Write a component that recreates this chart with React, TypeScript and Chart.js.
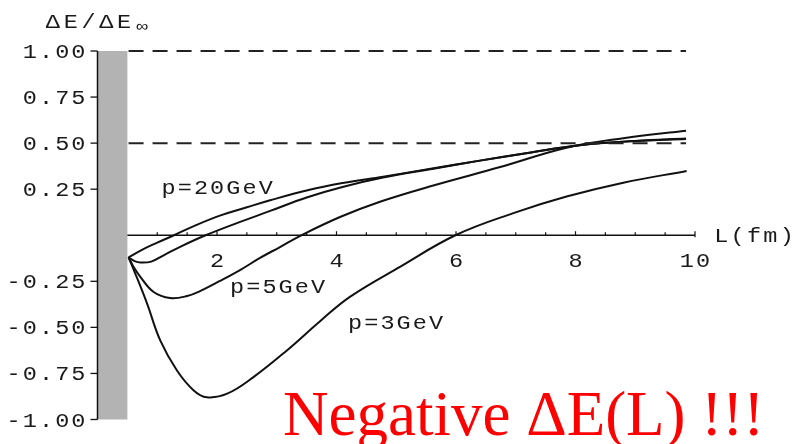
import React, { useEffect, useRef } from "react";
import { Chart, registerables } from "chart.js";

Chart.register(...registerables);

// ---- data ----
const L_p20 = [0.52, 0.8, 1.0, 1.28, 1.65, 2.06, 2.5, 2.89, 3.5, 4.1, 4.78, 5.6, 6.4, 7.2, 8.1, 9.0, 9.85];
const dE_p20 = [-0.12, -0.07, -0.04, 0.0, 0.055, 0.108, 0.152, 0.19, 0.243, 0.283, 0.318, 0.362, 0.405, 0.447, 0.49, 0.512, 0.525];

const L_p10 = [0.52, 0.62, 0.72, 0.9, 1.1, 1.4, 1.81, 2.3, 2.89, 3.5, 4.1, 4.78, 5.6, 6.4, 7.2, 8.1, 9.0, 9.85];
const dE_p10 = [-0.12, -0.14, -0.148, -0.143, -0.11, -0.06, 0.0, 0.062, 0.132, 0.205, 0.262, 0.313, 0.36, 0.405, 0.447, 0.49, 0.511, 0.523];

const L_p5 = [0.52, 0.6, 0.72, 0.94, 1.213, 1.5, 1.716, 2.05, 2.385, 2.72, 3.054, 3.418, 4.059, 4.728, 5.62, 6.74, 7.85, 8.8, 9.85];
const dE_p5 = [-0.12, -0.17, -0.227, -0.308, -0.341, -0.33, -0.303, -0.248, -0.189, -0.123, -0.064, 0.001, 0.099, 0.182, 0.27, 0.37, 0.475, 0.527, 0.567];

const L_p3 = [0.52, 0.61, 0.83, 1.05, 1.33, 1.61, 1.83, 2.17, 2.61, 3.17, 3.73, 4.23, 5.07, 5.99, 6.96, 7.85, 8.8, 9.86];
const dE_p3 = [-0.12, -0.19, -0.371, -0.571, -0.734, -0.842, -0.879, -0.86, -0.77, -0.625, -0.465, -0.333, -0.17, 0.0, 0.12, 0.21, 0.285, 0.349];

const curveLabels = ["p=20GeV", "p=5GeV", "p=3GeV"];
const curveLabelL = [1.054, 2.2, 4.175];
const curveLabelY = [0.2255, -0.313, -0.509];

const yTickValues = [1, 0.75, 0.5, 0.25, -0.25, -0.5, -0.75, -1];
const yTickLabels = ["1.00", "0.75", "0.50", "0.25", "-0.25", "-0.50", "-0.75", "-1.00"];
const xTickValues = [1, 1.5, 2, 2.5, 3, 3.5, 4, 4.5, 5, 5.5, 6, 6.5, 7, 7.5, 8, 8.5, 9, 9.5, 10];
const xLabelValues = [2, 4, 6, 8, 10];
const xLabelTexts = ["2", "4", "6", "8", "10"];
const dashedLevels = [1.0, 0.5];
const dashedRange = [0.52, 9.85];
const shadeRange = [0, 0.5];
const xAxisStart = 0.5;

const yAxisTitle = "\u0394E/\u0394E";
const yAxisSub = "\u221E";
const xAxisTitle = "L(fm)";
const redNote = "Negative \u0394E(L) !!!";

const MONO = '"Liberation Mono", "DejaVu Sans Mono", monospace';

function drawMono(
  ctx: CanvasRenderingContext2D,
  text: string,
  x: number,
  y: number,
  align: "left" | "right" | "center",
  adv: number,
  size: number,
  hs = 1.12
) {
  const n = text.length;
  let start = x;
  if (align === "right") start = x - n * adv;
  if (align === "center") start = x - (n * adv) / 2;
  ctx.save();
  ctx.font = `${size}px ${MONO}`;
  ctx.fillStyle = "#1a1a1a";
  ctx.textAlign = "center";
  ctx.textBaseline = "alphabetic";
  for (let i = 0; i < n; i++) {
    const cx = start + (i + 0.5) * adv;
    ctx.save();
    ctx.translate(cx, y);
    ctx.scale(hs, 1);
    ctx.fillText(text[i], 0, 0);
    ctx.restore();
  }
  ctx.restore();
}

const decorPlugin = {
  id: "decor",
  beforeDatasetsDraw(chart: any) {
    const ctx: CanvasRenderingContext2D = chart.ctx;
    const xs = chart.scales.x;
    const ys = chart.scales.y;
    const X = (v: number) => xs.getPixelForValue(v);
    const Y = (v: number) => ys.getPixelForValue(v);
    ctx.save();
    // gray band
    ctx.fillStyle = "#b3b3b3";
    ctx.fillRect(X(shadeRange[0]), Y(1), X(shadeRange[1]) - X(shadeRange[0]), Y(-1) - Y(1));
    // y axis
    ctx.strokeStyle = "#111";
    ctx.lineWidth = 1.5;
    ctx.beginPath();
    ctx.moveTo(X(0), Y(1));
    ctx.lineTo(X(0), Y(-1));
    ctx.stroke();
    ctx.lineWidth = 1.3;
    for (const v of yTickValues) {
      ctx.beginPath();
      ctx.moveTo(X(0) - 7, Y(v));
      ctx.lineTo(X(0), Y(v));
      ctx.stroke();
    }
    // x axis
    ctx.lineWidth = 1.5;
    ctx.beginPath();
    ctx.moveTo(X(xAxisStart), Y(0));
    ctx.lineTo(X(10), Y(0));
    ctx.stroke();
    ctx.lineWidth = 1.2;
    for (const v of xTickValues) {
      const major = xLabelValues.includes(v);
      ctx.beginPath();
      ctx.moveTo(X(v), Y(0) - (major ? 4 : 3));
      ctx.lineTo(X(v), Y(0) + (v === 10 ? 2 : 0));
      ctx.stroke();
    }
    ctx.restore();
  },
  afterDatasetsDraw(chart: any) {
    const ctx: CanvasRenderingContext2D = chart.ctx;
    const xs = chart.scales.x;
    const ys = chart.scales.y;
    const X = (v: number) => xs.getPixelForValue(v);
    const Y = (v: number) => ys.getPixelForValue(v);
    // y tick labels
    yTickValues.forEach((v, i) => {
      drawMono(ctx, yTickLabels[i], X(0) - 11, Y(v) + 7, "right", 16.2, 21);
    });
    // x tick labels
    xLabelValues.forEach((v, i) => {
      drawMono(ctx, xLabelTexts[i], X(v), Y(0) + 32, "center", 16.2, 21);
    });
    // axis titles
    drawMono(ctx, xAxisTitle, X(10) + 18, Y(0) + 7, "left", 16.4, 21);
    drawMono(ctx, yAxisTitle, 44, 27.5, "left", 17.8, 21);
    drawMono(ctx, yAxisSub, 142, 31, "center", 16, 15, 1.3);
    // curve labels
    curveLabels.forEach((t, i) => {
      drawMono(ctx, t, X(curveLabelL[i]), Y(curveLabelY[i]), "left", 16.2, 21);
    });
    // red note
    ctx.save();
    ctx.font = '63px "Liberation Serif", "Times New Roman", serif';
    ctx.fillStyle = "#ff0000";
    ctx.textAlign = "left";
    ctx.textBaseline = "alphabetic";
    ctx.fillText(redNote, 283, 435);
    ctx.restore();
  },
};

function zip(xs: number[], ys: number[]) {
  return xs.map((x, i) => ({ x, y: ys[i] }));
}

export default function App() {
  const ref = useRef<HTMLCanvasElement>(null);
  useEffect(() => {
    if (!ref.current) return;
    const curveStyle = {
      borderColor: "#111",
      borderWidth: 2,
      pointRadius: 0,
      showLine: true,
      fill: false,
      tension: 0.4,
      clip: false as const,
    };
    const dashStyle = {
      borderColor: "#222",
      borderWidth: 2,
      pointRadius: 0,
      showLine: true,
      fill: false,
      borderDash: [15, 9],
      clip: false as const,
    };
    const chart = new Chart(ref.current, {
      type: "scatter",
      data: {
        datasets: [
          ...dashedLevels.map((lv) => ({
            label: "level " + lv,
            data: dashedRange.map((x) => ({ x, y: lv })),
            ...dashStyle,
          })),
          { label: "p=20GeV", data: zip(L_p20, dE_p20), ...curveStyle },
          { label: "p=10GeV", data: zip(L_p10, dE_p10), ...curveStyle },
          { label: "p=5GeV", data: zip(L_p5, dE_p5), ...curveStyle },
          { label: "p=3GeV", data: zip(L_p3, dE_p3), ...curveStyle },
        ],
      },
      options: {
        responsive: false,
        maintainAspectRatio: false,
        devicePixelRatio: 1,
        animation: false,
        layout: { padding: { left: 97.5, right: 104, top: 51, bottom: 24.5 } },
        plugins: { legend: { display: false }, tooltip: { enabled: false } },
        scales: {
          x: { type: "linear", min: 0, max: 10, display: false },
          y: { type: "linear", min: -1, max: 1, display: false },
        },
      },
      plugins: [decorPlugin],
    });
    return () => chart.destroy();
  }, []);
  return (
    <div style={{ position: "fixed", left: 0, top: 0, width: 799, height: 444, background: "#fff" }}>
      <canvas ref={ref} width={799} height={444} style={{ width: 799, height: 444, display: "block" }} />
    </div>
  );
}
